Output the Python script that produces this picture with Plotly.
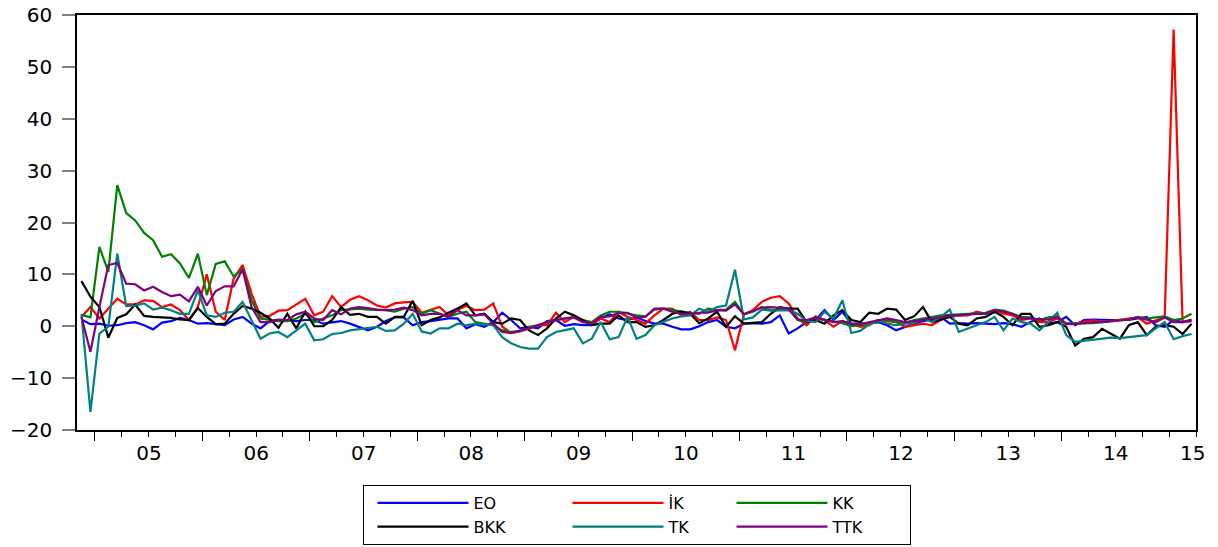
import plotly.graph_objects as go

# Monthly observations, 2004M11 .. 2015M03 (125 points)
periods = []
y, m = 2004, 11
for _ in range(125):
    periods.append(f"{y}M{m:02d}")
    m += 1
    if m > 12:
        m = 1
        y += 1

EO = [1.3, 0.4, 0.5, 0.1, 0.2, 0.6, 0.8, 0.2, -0.6, 0.7, 1.0, 1.6, 1.2, 0.5, 0.6, 0.4, 0.2, 1.3, 1.8, 0.5, -0.4, 1.0, 1.3, 1.2, 1.0,
      1.2, 1.2, 0.5, 0.8, 1.0, 0.5, -0.1, -0.8, -0.1, 1.0, 1.7, 1.7, 0.2, 0.8, 1.0, 1.2, 1.5, 1.5, -0.4, 0.4, -0.1, 0.8, 2.6, 1.2, -0.4, -0.1, -0.4, 1.0, 1.2, 0.1, 0.4, 0.2, 0.2,
      1.5, 2.3, 1.5, 1.2, 1.7, 1.0, 0.5, 0.5, -0.1, -0.6, -0.6, 0.0, 0.8, 1.2, -0.1, -0.4, 0.5, 0.6, 0.5, 0.8, 2.1, -1.4, -0.4, 0.8, 1.2, 3.1, 1.2, 2.8, 0.5, 0.5, 0.5, 0.8,
      0.2, -0.8, -0.1, 0.5, 1.0, 1.3, 1.8, 0.5, 0.6, 0.5, 0.6, 0.5, 0.4, 0.6, 0.4, -0.1, 0.8, 1.5, 0.5, 0.8, 1.8, 0.2, 1.2, 1.3, 1.2, 1.2, 1.2, 1.2, 1.5, 1.8, 0.2, -0.1, 1.2, 0.8, 1.0]

IK = [1.8, 3.7, 1.5, 3.4, 5.3, 4.2, 4.2, 5.0, 4.9, 3.7, 4.2, 3.1, 1.2, 3.7, 10.0, 2.8, 1.2, 9.2, 11.8, 6.3, 1.8, 2.0, 3.0, 3.1, 4.2,
      5.3, 2.1, 2.8, 5.8, 3.7, 5.1, 5.8, 5.0, 4.0, 3.6, 4.4, 4.6, 4.7, 2.6, 3.2, 3.7, 2.1, 3.2, 3.9, 3.1, 3.2, 4.4, -0.1, -1.3, -1.0, -0.4, 0.2, 0.2, 2.6, 0.8, 1.8, 1.2, 0.4,
      1.5, 0.8, 2.8, 1.8, 1.2, 0.5, 2.1, 3.4, 3.4, 2.1, 2.8, 1.2, 1.2, 1.7, 1.2, -4.6, 2.3, 3.1, 4.7, 5.5, 5.8, 4.4, 1.5, 0.2, 1.9, 1.2, -0.1, 1.0, 0.5, -0.1, 0.2, 1.2,
      1.0, 0.8, -0.1, 0.2, 0.5, 0.2, 1.2, 1.9, 2.1, 2.1, 2.8, 2.4, 3.1, 2.4, 2.1, 1.2, 1.5, 0.8, 0.8, 1.5, 0.5, 0.5, 0.8, 1.2, 0.8, 1.0, 1.2, 1.5, 1.7, 0.5, 1.2, 1.8, 57.2, 0.8, 1.2]

KK = [2.2, 1.7, 15.3, 10.5, 27.2, 21.8, 20.4, 18.0, 16.6, 13.4, 13.9, 12.1, 9.3, 14.0, 6.0, 12.0, 12.5, 9.6, 11.0, 5.0, 1.5, 1.2, 1.0, 1.0, 1.5,
      2.4, 0.8, 1.5, 2.1, 3.1, 3.2, 3.4, 3.2, 3.2, 3.1, 2.8, 3.4, 3.7, 2.4, 3.1, 2.4, 1.8, 2.4, 2.8, 0.8, 0.5, 0.2, -0.8, -1.1, -0.9, -0.1, 0.2, 0.8, 1.2, 1.5, 1.8, 1.2, 0.8,
      2.1, 2.8, 2.8, 2.4, 2.1, 1.9, 3.2, 3.4, 3.1, 2.8, 2.6, 2.4, 3.4, 3.1, 3.2, 4.7, 2.3, 2.8, 3.7, 3.1, 3.1, 3.2, 1.2, 0.8, 1.5, 1.2, 0.8, 0.6, 0.0, 0.2, 0.6, 0.8,
      1.3, 0.8, 0.6, 1.2, 1.5, 1.8, 2.1, 2.2, 2.3, 2.4, 2.6, 2.6, 3.2, 3.0, 2.4, 1.8, 1.7, 1.2, 1.7, 1.9, 0.5, 0.5, 0.6, 0.6, 0.8, 1.0, 1.2, 1.3, 1.8, 1.5, 1.7, 1.9, 1.2, 1.5, 2.4]

BKK = [8.7, 5.7, 3.7, -2.2, 1.6, 2.3, 4.2, 2.0, 1.8, 1.7, 1.6, 1.3, 1.2, 3.5, 1.8, 0.4, 0.5, 2.4, 3.9, 3.4, 2.6, 1.5, -0.3, 2.4, -0.4,
       2.8, 0.0, 0.0, 1.2, 3.7, 2.2, 2.4, 1.8, 1.8, 0.5, 1.8, 1.8, 4.9, 0.2, 1.2, 1.7, 2.6, 3.4, 4.4, 2.1, 2.4, 0.8, 0.5, 1.5, 1.2, -0.8, -1.7, -0.4, 1.5, 2.8, 2.1, 1.2, 0.2,
       0.5, 0.5, 2.1, 0.8, 0.8, -0.1, 0.2, 1.2, 2.4, 2.8, 2.4, 0.6, 1.5, 2.8, -0.1, 1.9, 0.5, 0.6, 0.8, 2.4, 3.7, 3.4, 3.4, 0.8, 1.2, 0.5, 2.1, 3.1, 1.2, 0.8, 2.6, 2.4,
       3.4, 3.2, 1.2, 1.9, 3.7, 0.8, 1.3, 1.8, 0.5, 0.2, 1.5, 1.8, 2.8, 1.8, 0.2, 2.4, 2.4, -0.1, 0.2, 0.8, -0.1, -3.7, -2.4, -2.1, -0.5, -1.4, -2.4, 0.2, 0.8, -1.7, -0.1, 0.2, -0.1, -1.5, 0.5]

TK = [2.4, -16.5, -1.4, -0.1, 14.0, 3.9, 4.0, 4.4, 3.2, 3.6, 3.1, 2.4, 2.4, 6.9, 2.1, 1.8, 2.6, 2.8, 4.7, 1.2, -2.4, -1.4, -1.1, -2.1, -0.8,
      0.5, -2.7, -2.5, -1.5, -1.3, -0.8, -0.6, -0.4, -0.1, -0.9, -0.8, 0.5, 2.4, -1.0, -1.4, -0.4, -0.4, 0.5, 0.2, 0.5, 0.4, 0.2, -2.1, -3.3, -4.0, -4.3, -4.3, -2.1, -1.1, -0.8, -0.4, -3.3, -2.4,
      0.8, -2.5, -2.1, 1.8, -2.4, -1.7, 0.2, 0.8, 1.5, 1.9, 2.1, 3.4, 2.8, 3.7, 4.0, 10.9, 1.3, 1.7, 3.2, 3.0, 3.1, 3.1, 2.4, 1.0, 0.8, 2.8, 1.5, 5.0, -1.3, -0.9, 0.4, 1.2,
      0.5, 0.2, 0.5, 0.6, 1.5, 0.8, 1.8, 3.2, -1.1, -0.4, 0.2, 0.8, 1.8, -0.8, 1.5, 0.8, 0.5, -0.8, 0.8, 2.6, -1.7, -3.0, -2.8, -2.7, -2.4, -2.2, -2.3, -2.1, -1.9, -1.7, -0.4, 0.8, -2.5, -1.9, -1.5]

TTK = [1.8, -4.9, 3.7, 11.8, 12.2, 8.2, 8.1, 6.9, 7.6, 6.6, 5.8, 6.1, 4.8, 7.6, 4.0, 6.8, 7.7, 7.7, 11.0, 3.7, 0.8, 0.8, 1.2, 1.2, 2.3,
       2.8, 1.5, 1.2, 3.1, 2.3, 3.4, 3.7, 3.5, 3.2, 3.1, 3.2, 3.6, 3.1, 2.1, 2.4, 2.4, 1.8, 3.1, 2.1, 2.1, 2.3, 0.5, -1.1, -1.3, -0.9, -0.4, 0.2, 0.8, 1.2, 1.5, 1.7, 0.8, 0.6,
       1.8, 1.9, 2.6, 2.6, 1.7, 1.8, 3.4, 3.4, 2.8, 2.4, 2.4, 2.6, 2.6, 3.1, 3.0, 4.2, 2.3, 3.0, 3.6, 3.7, 3.6, 3.4, 1.3, 1.2, 1.7, 1.3, 0.8, 1.0, 0.4, 0.4, 0.8, 1.2,
       1.5, 1.2, 0.8, 1.0, 1.3, 1.5, 1.7, 2.1, 2.1, 2.3, 2.4, 2.4, 3.1, 2.8, 2.4, 1.5, 1.5, 1.3, 1.3, 1.8, 0.4, 0.4, 0.6, 0.8, 0.8, 1.0, 1.2, 1.3, 1.7, 1.3, 0.8, 1.7, 0.8, 0.8, 1.3]

series_names = ["EO", "İK", "KK", "BKK", "TK", "TTK"]
series_values = [EO, IK, KK, BKK, TK, TTK]
series_colors = ["#0000FF", "#FF0000", "#008000", "#000000", "#008080", "#800080"]
legend_groups = ["c1", "c2", "c3", "c1", "c2", "c3"]
legend_widths = [79, 48, 72, 79, 48, 72]

year_labels = ["05", "06", "07", "08", "09", "10", "11", "12", "13", "14", ""]
last_label = "15"

FONT = "DejaVu Sans"
x = list(range(len(periods)))
n = len(periods)

fig = go.Figure()
for name, vals, col, grp, lw in zip(series_names, series_values, series_colors, legend_groups, legend_widths):
    fig.add_trace(go.Scatter(
        x=x, y=vals, name=name, mode="lines",
        line=dict(color=col, width=2.2),
        legendgroup=grp, legendwidth=lw,
        customdata=periods,
        hovertemplate="%{customdata}: %{y}<extra>" + name + "</extra>",
    ))

# year boundaries (between December and January) and quarter boundaries
first_jan = periods.index("2005M01")
year_ticks = [first_jan - 0.5 + 12 * k for k in range(len(year_labels))]
quarter_ticks = [first_jan - 0.5 + 3 * k for k in range((n - first_jan) // 3 + 1)]
obs_px = 1119 / n

fig.update_layout(
    width=1218, height=547,
    margin=dict(l=77, r=22, t=15, b=117, autoexpand=False),
    paper_bgcolor="white", plot_bgcolor="white",
    showlegend=True,
    legend=dict(
        orientation="h", traceorder="grouped",
        x=0.5, xanchor="center", y=-0.1325, yanchor="top",
        bordercolor="black", borderwidth=1,
        font=dict(family=FONT, size=16, color="black"),
        itemwidth=91, indentation=10,
        bgcolor="white",
    ),
    xaxis=dict(
        range=[-0.5, n - 0.5], automargin=False,
        showgrid=False, zeroline=False,
        showline=True, linecolor="black", linewidth=1.5, mirror=True,
        tickmode="array", tickvals=year_ticks, ticktext=year_labels,
        ticks="outside", ticklen=9, tickwidth=1, tickcolor="black",
        ticklabelshift=int(round(6 * obs_px)), ticklabelstandoff=-5,
        tickfont=dict(family=FONT, size=20, color="black"),
        minor=dict(tickmode="array", tickvals=quarter_ticks, ticks="outside",
                   ticklen=5, tickwidth=1, tickcolor="black", showgrid=False),
    ),
    yaxis=dict(
        range=[-20, 60], tickmode="array", tickvals=list(range(-20, 61, 10)),
        automargin=False,
        showgrid=False, zeroline=False,
        showline=True, linecolor="black", linewidth=1.5, mirror=True,
        ticks="outside", ticklen=13, tickwidth=1.5, tickcolor="#808080",
        ticklabelstandoff=6,
        tickfont=dict(family=FONT, size=20, color="black"),
    ),
    annotations=[dict(
        x=n - 0.85, xref="x", y=-0.055, yref="paper",
        text=last_label, showarrow=False, xanchor="center", yanchor="middle",
        font=dict(family=FONT, size=20, color="black"),
    )],
)

fig.write_html("out.html", config={"displayModeBar": False},
               post_script="document.body.style.margin='0';")
